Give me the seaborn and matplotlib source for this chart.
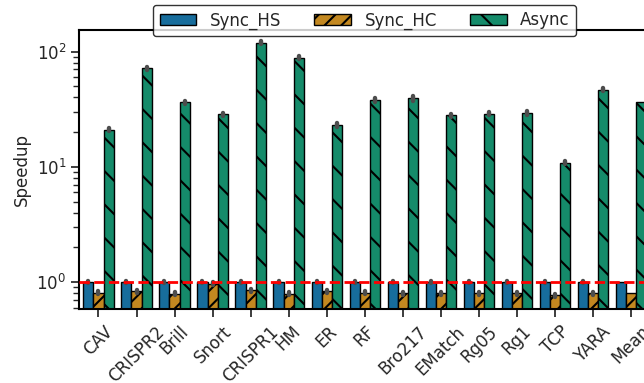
import numpy as np
import pandas as pd
import matplotlib
matplotlib.use("Agg")
import matplotlib.pyplot as plt
import matplotlib.patches as mpatches
import seaborn as sns

# Benchmarks and measured speedups (relative to the baseline, log scale)
benchmarks = ["CAV", "CRISPR2", "Brill", "Snort", "CRISPR1", "HM", "ER", "RF",
              "Bro217", "EMatch", "Rg05", "Rg1", "TCP", "YARA", "Mean"]
modes = ["Sync_HS", "Sync_HC", "Async"]

sync_hs = [1.0, 1.0, 1.0, 1.0, 1.0, 1.0, 1.0, 1.0, 1.0, 1.0, 1.0, 1.0, 1.0, 1.0, 1.0]
sync_hc = [0.81, 0.83, 0.79, 0.97, 0.85, 0.79, 0.83, 0.81, 0.80, 0.80, 0.80, 0.80,
           0.77, 0.80, 0.81]
async_ = [21.0, 72.0, 36.5, 28.7, 119.0, 88.5, 23.2, 37.7, 39.3, 27.9, 28.9, 29.3,
          10.9, 46.7, 36.4]

# Relative run-to-run spread of each measurement (Mean has none)
spread_hs = [0.015] * 14 + [0.0]
spread_hc = [0.03] * 14 + [0.0]
spread_async = [0.035, 0.03, 0.03, 0.03, 0.03, 0.035, 0.04, 0.04,
                0.045, 0.035, 0.035, 0.04, 0.035, 0.035, 0.0]

rows = []
for mode, vals, spr in [("Sync_HS", sync_hs, spread_hs),
                        ("Sync_HC", sync_hc, spread_hc),
                        ("Async", async_, spread_async)]:
    for b, v, s in zip(benchmarks, vals, spr):
        if s > 0:
            rows.append((b, mode, v * (1 - s)))
            rows.append((b, mode, v * (1 + s)))
        else:
            rows.append((b, mode, v))
df = pd.DataFrame(rows, columns=["benchmark", "mode", "speedup"])

sns.set_theme(style="ticks")
plt.rcParams["font.family"] = ["DejaVu Sans"]
plt.rcParams["hatch.linewidth"] = 1.5

fig = plt.figure(figsize=(6.44, 3.83), dpi=100)
ax = fig.add_axes([0.1234, 0.1924, 0.886, 0.7293])

palette = sns.color_palette("colorblind")[:3]
sns.barplot(data=df, x="benchmark", y="speedup", hue="mode", order=benchmarks,
            hue_order=modes, palette=palette, errorbar=("pi", 100),
            err_kws={"color": ".3", "linewidth": 3.2},
            edgecolor="black", linewidth=1.0, legend=False, ax=ax)

hatches = ["", "//", "\\"]
for container, h in zip(ax.containers, hatches):
    for bar in container:
        bar.set_hatch(h)

ax.set_yscale("log")
ax.set_ylim(0.58, 154)
ax.set_xlim(-0.5, 14.5)
ax.axhline(1.0, color="red", linestyle="--", linewidth=2, zorder=5)

ax.set_xlabel("")
ax.set_ylabel("Speedup", fontsize=12)
ax.tick_params(axis="y", labelsize=12)
ax.tick_params(axis="x", labelsize=12)
plt.setp(ax.get_xticklabels(), rotation=45)

for side in ["left", "bottom", "top", "right"]:
    ax.spines[side].set_color("black")
    ax.spines[side].set_linewidth(1.5)

handles = []
for container, h, m in zip(ax.containers, hatches, modes):
    fc = container.patches[0].get_facecolor()
    handles.append(mpatches.Patch(facecolor=fc, edgecolor="black", hatch=h, label=m))
leg = ax.legend(handles=handles, loc="center", bbox_to_anchor=(0.5, 1.034), ncol=3,
                fontsize=12, frameon=True, fancybox=True, edgecolor="black",
                framealpha=0.8, columnspacing=2.0, handlelength=2.2)

fig.savefig("out.png", dpi=100)
